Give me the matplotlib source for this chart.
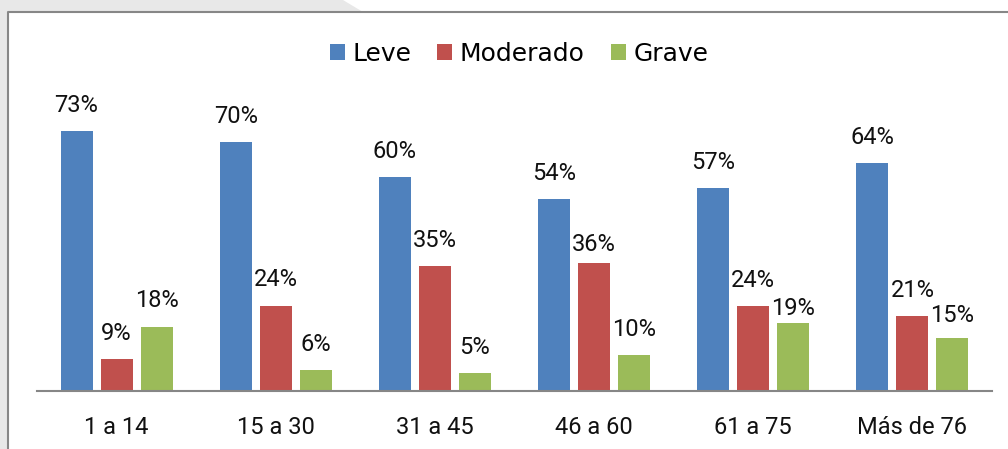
import numpy as np
import matplotlib.pyplot as plt
from matplotlib.patches import Polygon
from matplotlib.lines import Line2D

categories = ["1 a 14", "15 a 30", "31 a 45", "46 a 60", "61 a 75", "Más de 76"]
leve = [73, 70, 60, 54, 57, 64]
moderado = [9, 24, 35, 36, 24, 21]
grave = [18, 6, 5, 10, 19, 15]
series_names = ["Leve", "Moderado", "Grave"]
colors = ["#4F81BD", "#C0504D", "#9BBB59"]

# label gap above bar top, in pixels (some labels were moved by hand)
label_gap = {
    "Leve": [19, 19, 19, 19, 19, 19],
    "Moderado": [19, 20, 19, 12, 19, 19],
    "Grave": [20, 19, 19, 19, 8, 16],
}

W, H = 1008, 449
fig = plt.figure(figsize=(W / 100, H / 100), dpi=100)
fig.patch.set_facecolor("white")

# gray background behind the chart box
bg = [(0, 0), (343, 0), (363, 12), (8, 12), (8, H), (0, H)]
fig.patches.append(Polygon([(x / W, 1 - y / H) for x, y in bg], closed=True,
                           transform=fig.transFigure, facecolor="#e8e8e8",
                           edgecolor="none", zorder=0))
# chart border
fig.lines.append(Line2D([8 / W, 8 / W, 1.0], [0, 1 - 12 / H, 1 - 12 / H],
                        transform=fig.transFigure, color="#878787", lw=1.5))

ax = fig.add_axes([37 / W, 58 / H, 955 / W, 311 / H])
ax.set_xlim(-0.5, 5.5)
ax.set_ylim(0, 87.4)

x = np.arange(len(categories))
pitch = 40 / 159
width = 32 / 159
for i, (name, vals, c) in enumerate(zip(series_names, [leve, moderado, grave], colors)):
    xs = x + (i - 1) * pitch
    ax.bar(xs, vals, width=width, color=c, label=name, zorder=2)
    for xi, v, g in zip(xs, vals, label_gap[name]):
        ax.annotate(f"{v}%", (xi, v), xytext=(0, g * 0.72), textcoords="offset points",
                    ha="center", va="baseline", fontsize=17, family="Roboto",
                    color="#111111", annotation_clip=False)

for s in ["top", "left", "right"]:
    ax.spines[s].set_visible(False)
ax.spines["bottom"].set_color("#868686")
ax.spines["bottom"].set_linewidth(1.5)
ax.set_yticks([])
ax.set_xticks(x)
ax.set_xticklabels(categories, family="Roboto", fontsize=17, color="#111111")
ax.tick_params(axis="x", length=0, pad=18)
ax.patch.set_alpha(0)

fig.legend(loc="center", bbox_to_anchor=(0.515, 0.880), ncol=3, frameon=False,
           prop={"family": "DejaVu Sans", "size": 18},
           handlelength=0.6, handleheight=0.6, handletextpad=0.3,
           columnspacing=1.05, borderpad=0)

fig.savefig("out.png", dpi=100)
